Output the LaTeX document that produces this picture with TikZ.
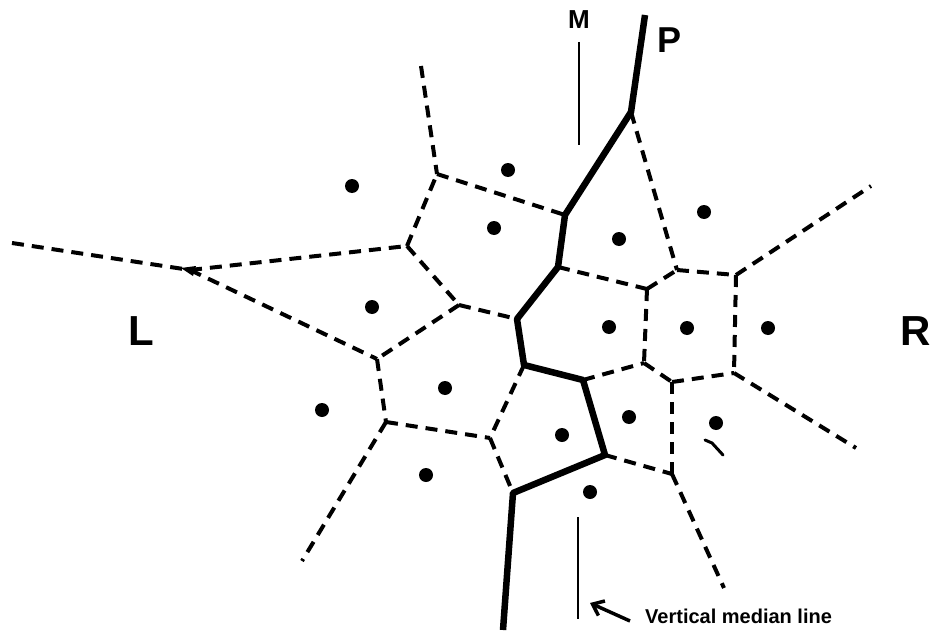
\documentclass[tikz,border=0pt]{standalone}
\usepackage{fontspec}
\setsansfont{Liberation Sans}
\usepackage{xcolor}
\usetikzlibrary{arrows.meta,positioning}

\begin{document}
\begin{tikzpicture}[
  x=1pt, y=-1pt,
  font=\sffamily\bfseries,
  ridge/.style={draw=black, line width=4pt, dash pattern=on 12pt off 8pt},
  boundary/.style={draw=black, line width=6.5pt, line join=round},
  site/.style={circle, fill=black, inner sep=0pt, minimum size=14pt},
  guide/.style={draw=black, line width=2.4pt},
  pointer/.style={-{Straight Barb[length=10pt,width=16pt]}, line width=3.5pt, draw=black},
  letter/.style={inner sep=0pt, font=\sffamily\bfseries\fontsize{42}{42}\selectfont},
  caption/.style={inner sep=0pt, font=\sffamily\bfseries\fontsize{20}{20}\selectfont}
]
  \useasboundingbox (0,0) rectangle (932,634);

  \coordinate (w-end) at (12,243);
  \coordinate (w) at (190,270);
  \coordinate (nw) at (407,246);
  \coordinate (n) at (437,174);
  \coordinate (n-end) at (421,66);
  \coordinate (c1) at (459,305);
  \coordinate (sw) at (377,359);
  \coordinate (s1) at (386,422);
  \coordinate (sw-end) at (302,561);
  \coordinate (c2) at (490,438);
  \coordinate (e1) at (647,289);
  \coordinate (e2) at (677,270);
  \coordinate (ne) at (736,275);
  \coordinate (ne-end) at (871,186);
  \coordinate (se) at (734,373);
  \coordinate (se-end) at (856,448);
  \coordinate (e3) at (644,363);
  \coordinate (e4) at (672,382);
  \coordinate (s2) at (672,474);
  \coordinate (s-end) at (724,588);

  \coordinate (p-top) at (645,15);
  \coordinate (p1) at (631,112);
  \coordinate (p2) at (565,215);
  \coordinate (p3) at (558,267);
  \coordinate (p4) at (517,319);
  \coordinate (p5) at (524,365);
  \coordinate (p6) at (583,380);
  \coordinate (p7) at (605,455);
  \coordinate (p8) at (513,493);
  \coordinate (p-bot) at (503,630);

  \node[site] (d1) at (352,186) {};
  \node[site] (d2) at (508,170) {};
  \node[site] (d3) at (494,228) {};
  \node[site] (d4) at (619,239) {};
  \node[site] (d5) at (704,212) {};
  \node[site] (d6) at (372,307) {};
  \node[site] (d7) at (609,327) {};
  \node[site] (d8) at (687,328) {};
  \node[site] (d9) at (768,328) {};
  \node[site] (d10) at (445,388) {};
  \node[site] (d11) at (322,410) {};
  \node[site] (d12) at (562,435) {};
  \node[site] (d13) at (629,417) {};
  \node[site] (d14) at (716,423) {};
  \node[site] (d15) at (426,475) {};
  \node[site] (d16) at (590,492) {};

  \node[letter] (lbl-l) at (141,331) {L};
  \node[letter, anchor=east] (lbl-r) at (931,331) {R};
  \node[letter, font=\sffamily\bfseries\fontsize{36}{36}\selectfont] (lbl-p) at (669,40) {P};
  \node[letter, font=\sffamily\bfseries\fontsize{26}{26}\selectfont] (lbl-m) at (579,20) {M};
  \node[caption, anchor=base west] (note) at (645,623) {Vertical median line};

  \coordinate (m-top) at (579,42);
  \coordinate (m-bot) at (579,145);
  \coordinate (v-top) at (578,517);
  \coordinate (v-bot) at (578,619);
  \coordinate (tail) at (630,621);
  \coordinate (tip) at (590,603);

  \draw[ridge] (w-end) -- (w);
  \draw[ridge] (w) -- (nw);
  \draw[ridge] (w) -- (sw);
  \draw[ridge] (nw) -- (n);
  \draw[ridge] (n-end) -- (n);
  \draw[ridge] (n) -- (p2);
  \draw[ridge] (nw) -- (c1);
  \draw[ridge] (c1) -- (sw);
  \draw[ridge] (c1) -- (p4);
  \draw[ridge] (sw) -- (s1);
  \draw[ridge] (s1) -- (sw-end);
  \draw[ridge] (s1) -- (c2);
  \draw[ridge] (p5) -- (c2);
  \draw[ridge] (c2) -- (p8);
  \draw[ridge] (p3) -- (e1);
  \draw[ridge] (e1) -- (e2);
  \draw[ridge] (p1) -- (e2);
  \draw[ridge] (e2) -- (ne);
  \draw[ridge] (ne) -- (ne-end);
  \draw[ridge] (ne) -- (se);
  \draw[ridge] (se) -- (se-end);
  \draw[ridge] (e1) -- (e3);
  \draw[ridge] (e3) -- (e4);
  \draw[ridge] (e4) -- (se);
  \draw[ridge] (p6) -- (e3);
  \draw[ridge] (e4) -- (s2);
  \draw[ridge] (p7) -- (s2);
  \draw[ridge] (s2) -- (s-end);

  \draw[boundary] (p-top) -- (p1) -- (p2) -- (p3) -- (p4) -- (p5) -- (p6) -- (p7) -- (p8) -- (p-bot);

  \fill (181,268) -- (196,266) -- (193,276) -- cycle;
  \draw[line width=3pt, line cap=round] (705,440) -- (712,443) -- (723,455);

  \draw[guide] (m-top) -- (m-bot);
  \draw[guide] (v-top) -- (v-bot);
  \draw[pointer] (tail) -- (tip);
\end{tikzpicture}
\end{document}
